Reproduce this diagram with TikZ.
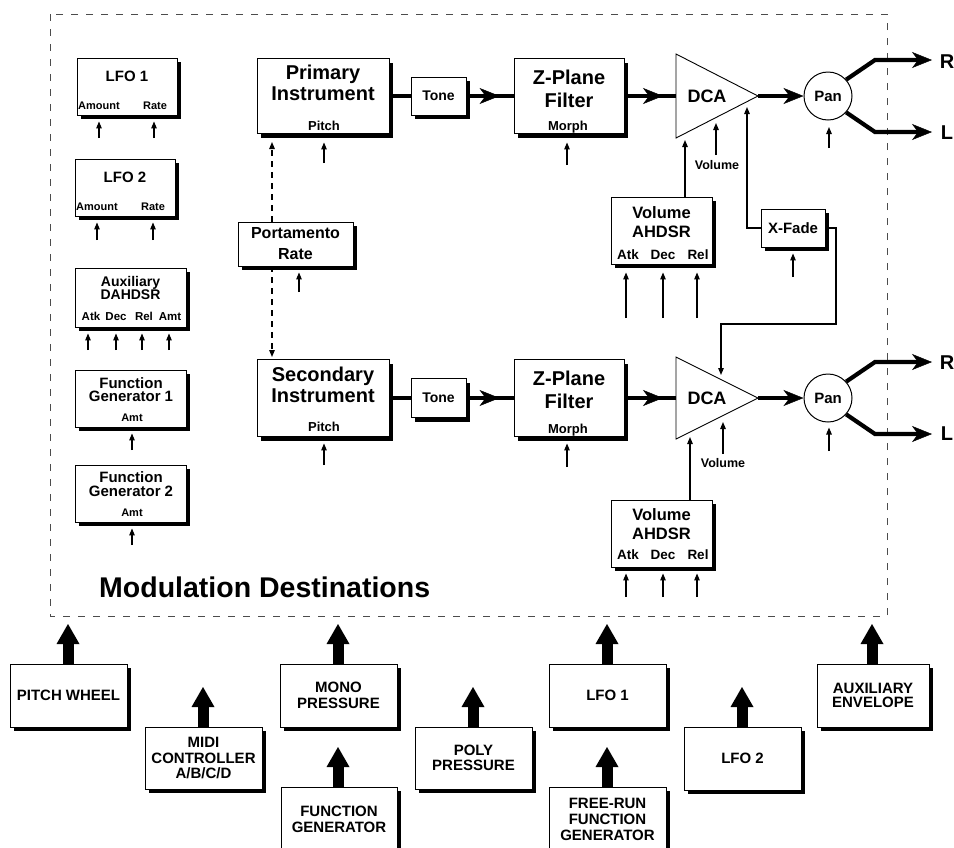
\documentclass[tikz,border=0pt]{standalone}
\usepackage{fontspec}
\setmainfont{Liberation Sans}
\usetikzlibrary{arrows.meta,shadows,decorations.markings,calc}

\newcommand\fs[2]{\fontsize{#1}{#2}\selectfont\bfseries\lineskiplimit=-50pt\lineskip=0pt}
% box by corners: [font]{name}{x1}{y1}{x2}{y2}{text}
\newcommand\mybox[6][]{\node[box,font=#1,minimum width={(#5)-(#3)},minimum height={(#6)-(#4)}] (#2) at ({((#3)+(#5))/2},{((#4)+(#6))/2})}
% thin modulation arrow with free lower end: {node}{x}{ybase}{gap}
\newcommand\modin[4]{\coordinate (#1b#2) at (#2,#3); \draw[mod, shorten >=#4pt] (#1b#2) -- (#1b#2 |- #1.south);}

\tikzset{
  box/.style={draw=black, line width=0.9pt, fill=white, inner sep=0pt, align=center,
    general shadow={fill=black, shadow xshift=4pt, shadow yshift=-4pt}},
  lbl/.style={inner sep=0pt, text depth=0pt},
  ml/.style={inner sep=0pt, align=center},
  mod/.style={line width=1.2pt, -{Triangle[length=7pt,width=5.5pt]}},
  sig/.style={line width=4.2pt},
  sigtip/.style={-{Stealth[length=20pt,width=16pt,inset=6pt,line width=0.5pt]}},
  midtip/.style={postaction={decorate, decoration={markings,
     mark=at position -#1 with {\arrow{Stealth[length=20pt,width=16pt,inset=6pt,line width=0.5pt]}}}}},
  fat/.style={line width=11pt, -{Triangle[length=20pt,width=23pt,line width=0pt]}},
  frame/.style={draw=black!70, line width=1pt, dash pattern=on 7pt off 8pt},
  porta/.style={line width=1.2pt, dash pattern=on 6pt off 5pt, -{Triangle[length=7pt,width=5.5pt]}},
  tri/.style={draw=black, line width=0.9pt, fill=white},
  pan/.style={circle, draw=black, line width=1pt, fill=white, minimum size=48pt, inner sep=0pt, font=\fs{15}{15}},
  auxlbl/.style={lbl, text height=8.4pt, font=\fs{11.5}{11.5}},
}

\begin{document}
\begin{tikzpicture}[x=1pt,y=-1pt]
\useasboundingbox (0,0) rectangle (954,847);
\clip (0,0) rectangle (954,847);
\fill[white] (0,0) rectangle (954,847);

\draw[frame] (50,14) rectangle (887,616);

% ---------------- left column ----------------
\mybox{lfo1}{77}{58}{177}{115}{};
\node[lbl,font=\fs{15}{15}] (lfo1t) at (127,76) {LFO 1};
\node[lbl,font=\fs{11}{11}] (lfo1a) at (99,106) {Amount};
\node[lbl,font=\fs{11}{11}] (lfo1r) at (155,106) {Rate};
\modin{lfo1}{99}{138}{6}
\modin{lfo1}{154}{138}{6}

\mybox{lfo2}{75}{159}{175}{216}{};
\node[lbl,font=\fs{15}{15}] (lfo2t) at (125,177) {LFO 2};
\node[lbl,font=\fs{11}{11}] (lfo2a) at (97,207) {Amount};
\node[lbl,font=\fs{11}{11}] (lfo2r) at (153,207) {Rate};
\modin{lfo2}{97}{240}{6}
\modin{lfo2}{153}{240}{6}

\mybox{aux}{75}{268}{186}{327}{};
\node[ml,font=\fs{14}{13}] (auxt) at (130.5,288) {Auxiliary\\DAHDSR};
\node[auxlbl] (auxa) at (91,316) {Atk};
\node[auxlbl] (auxd) at (116,316) {Dec};
\node[auxlbl] (auxr) at (144,316) {Rel};
\node[auxlbl] (auxm) at (170,316) {Amt};
\modin{aux}{88}{350}{6}
\modin{aux}{116}{350}{6}
\modin{aux}{142}{350}{6}
\modin{aux}{169}{350}{6}

\mybox{fg1}{75}{370}{186}{427}{};
\node[ml,font=\fs{15}{13.5}] (fg1t) at (131,389.5) {Function\\Generator 1};
\node[lbl,font=\fs{11}{11}] (fg1a) at (132,418) {Amt};
\modin{fg1}{132}{450}{6}

\mybox{fg2}{75}{465}{186}{522}{};
\node[ml,font=\fs{15}{13.5}] (fg2t) at (131,484) {Function\\Generator 2};
\node[lbl,font=\fs{11}{11}] (fg2a) at (132,513) {Amt};
\modin{fg2}{132}{545}{6}

\node[anchor=base west, inner sep=0pt, font=\fs{28.5}{30}] (moddest) at (99,597) {Modulation Destinations};

% ---------------- primary chain ----------------
\mybox{prim}{257}{58.5}{389}{133.5}{};
\node[ml,font=\fs{20}{21}] (primt) at (323,82.5) {Primary\\Instrument};
\node[lbl,font=\fs{13}{13}] (primp) at (324,126) {Pitch};
\modin{prim}{324}{163}{8.5}

\mybox[\fs{14}{14}]{tone1}{411}{77}{466}{115}{Tone};

\mybox{zp1}{514}{58.5}{624}{133.5}{};
\node[ml,font=\fs{20}{23}] (zp1t) at (569,88.5) {Z-Plane\\Filter};
\node[lbl,font=\fs{13}{13}] (zp1m) at (568,126) {Morph};
\modin{zp1}{567}{165}{8.5}

\draw[tri] (676,54) -- (758,96) -- (676,138) -- cycle;
\node[lbl,font=\fs{18}{18}] (dca1) at (707,96) {DCA};
\coordinate (dca1in) at (676,96);
\coordinate (dca1out) at (758,96);

\node[pan] (pan1) at (828,96) {Pan};
\modin{pan1}{829}{148}{6.5}

\mybox[\fs{16}{21}]{porta}{238}{222}{353}{266}{Portamento\\Rate};
\modin{porta}{299}{292}{6}

\mybox{vol1}{611}{197}{712}{264}{};
\node[ml,font=\fs{16.5}{19}] (vol1t) at (661.5,222.5) {Volume\\AHDSR};
\node[lbl,font=\fs{13.5}{13.5}] (vol1a) at (628,255) {Atk};
\node[lbl,font=\fs{13.5}{13.5}] (vol1d) at (663,255) {Dec};
\node[lbl,font=\fs{13.5}{13.5}] (vol1r) at (698,255) {Rel};
\modin{vol1}{626}{318}{8}
\modin{vol1}{663}{318}{8}
\modin{vol1}{697}{318}{8}

\mybox[\fs{15}{15}]{xfade}{761}{209}{825}{247}{X-Fade};
\modin{xfade}{793}{277}{6}

\node[lbl,font=\fs{12.5}{12.5}] (vol1l) at (717,165) {Volume};

% ---------------- secondary chain ----------------
\mybox{sec}{257}{359.5}{389}{436.5}{};
\node[ml,font=\fs{20}{21}] (sect) at (323,384.5) {Secondary\\Instrument};
\node[lbl,font=\fs{13}{13}] (secp) at (324,427) {Pitch};
\modin{sec}{324}{465}{6.5}

\mybox[\fs{14}{14}]{tone2}{411}{378.5}{466}{417.5}{Tone};

\mybox{zp2}{514}{359.5}{624}{436.5}{};
\node[ml,font=\fs{20}{23}] (zp2t) at (569,390) {Z-Plane\\Filter};
\node[lbl,font=\fs{13}{13}] (zp2m) at (568,429) {Morph};
\modin{zp2}{567}{467}{6.5}

\draw[tri] (676,357) -- (758,398) -- (676,439) -- cycle;
\node[lbl,font=\fs{18}{18}] (dca2) at (707,398) {DCA};
\coordinate (dca2in) at (676,398);
\coordinate (dca2out) at (758,398);

\node[pan] (pan2) at (828,398) {Pan};
\modin{pan2}{829}{451}{5}

\mybox{vol2}{611}{500}{712}{567}{};
\node[ml,font=\fs{16.5}{19}] (vol2t) at (661.5,524) {Volume\\AHDSR};
\node[lbl,font=\fs{13.5}{13.5}] (vol2a) at (628,555) {Atk};
\node[lbl,font=\fs{13.5}{13.5}] (vol2d) at (663,555) {Dec};
\node[lbl,font=\fs{13.5}{13.5}] (vol2r) at (698,555) {Rel};
\modin{vol2}{626}{597}{6}
\modin{vol2}{663}{597}{6}
\modin{vol2}{697}{597}{6}

\node[lbl,font=\fs{12.5}{12.5}] (vol2l) at (723,463) {Volume};

% ---------------- R / L ----------------
\node[lbl,font=\fs{20}{20}] (r1t) at (947,62) {R};
\node[lbl,font=\fs{20}{20}] (l1t) at (947,133) {L};
\node[lbl,font=\fs{20}{20}] (r2t) at (947,363) {R};
\node[lbl,font=\fs{20}{20}] (l2t) at (947,434) {L};

% ---------------- signal connectors ----------------
\draw[sig] (prim) -- (tone1);
\draw[sig, midtip=14pt] (tone1) -- (zp1);
\draw[sig, midtip=13pt] (zp1) -- (dca1in);
\draw[sig, sigtip] (dca1out) -- (pan1);
\coordinate (r1b) at (875,60);  \coordinate (r1) at (932,60);
\coordinate (l1b) at (875,132); \coordinate (l1) at (932,132);
\draw[sig, sigtip] (pan1.42) -- (r1b) -- (r1);
\draw[sig, sigtip] (pan1.-42) -- (l1b) -- (l1);

\draw[sig] (sec) -- (tone2);
\draw[sig, midtip=14pt] (tone2) -- (zp2);
\draw[sig, midtip=13pt] (zp2) -- (dca2in);
\draw[sig, sigtip] (dca2out) -- (pan2);
\coordinate (r2b) at (875,362); \coordinate (r2) at (932,362);
\coordinate (l2b) at (875,434); \coordinate (l2) at (932,434);
\draw[sig, sigtip] (pan2.42) -- (r2b) -- (r2);
\draw[sig, sigtip] (pan2.-42) -- (l2b) -- (l2);

% ---------------- DCA control connectors ----------------
\coordinate (d1v) at (716,123);  \coordinate (d1vb) at (716,155);
\draw[mod] (d1vb) -- (d1v);
\coordinate (d1e) at (685,140);
\draw[mod] (d1e |- vol1.north) -- (d1e);
\coordinate (d1x) at (747,107);
\draw[mod] (xfade.west) -| (d1x);
\coordinate (xfr) at (836,324); \coordinate (d2x) at (721,375);
\draw[mod] (xfade.east) -- (xfade.east -| xfr) -- (xfr) -| (d2x);

\coordinate (d2v) at (723,422);  \coordinate (d2vb) at (723,454);
\draw[mod] (d2vb) -- (d2v);
\coordinate (d2e) at (690,437);
\draw[mod] (d2e |- vol2.north) -- (d2e);

% portamento
\coordinate (pup) at (272,142); \coordinate (pdn) at (272,357);
\draw[porta] (pup |- porta.north) -- (pup);
\draw[porta] (pdn |- porta.south) -- (pdn);

% ---------------- modulation sources ----------------
\mybox[\fs{15}{15.5}]{pw}{10}{664}{127}{727}{PITCH WHEEL};
\mybox[\fs{15}{15.5}]{midi}{145}{727}{262}{789}{MIDI\\CONTROLLER\\A/B/C/D};
\mybox[\fs{15}{15.5}]{mono}{280}{664}{397}{727}{MONO\\PRESSURE};
\mybox[\fs{15}{15.5}]{fgen}{281}{787}{397}{852}{FUNCTION\\GENERATOR};
\mybox[\fs{15}{15.5}]{poly}{415}{727}{532}{789}{POLY\\PRESSURE};
\mybox[\fs{15}{15.5}]{lfo1s}{549}{664}{666}{727}{LFO 1};
\mybox[\fs{15}{16}]{frfg}{549}{787}{666}{852}{FREE-RUN\\FUNCTION\\GENERATOR};
\mybox[\fs{15}{15.5}]{lfo2s}{684}{727}{801}{790}{LFO 2};
\mybox[\fs{15}{14.5}]{auxe}{817}{664}{929}{727}{AUXILIARY\\ENVELOPE};

\coordinate (pwtip) at (68,624);
\coordinate (miditip) at (203,687);
\coordinate (monotip) at (338,624);
\coordinate (fgentip) at (338,747);
\coordinate (polytip) at (473,687);
\coordinate (lfo1stip) at (607,624);
\coordinate (frfgtip) at (607,747);
\coordinate (lfo2stip) at (742,687);
\coordinate (auxetip) at (872,624);
\draw[fat] (pwtip |- pw.north) -- (pwtip);
\draw[fat] (miditip |- midi.north) -- (miditip);
\draw[fat] (monotip |- mono.north) -- (monotip);
\draw[fat] (fgentip |- fgen.north) -- (fgentip);
\draw[fat] (polytip |- poly.north) -- (polytip);
\draw[fat] (lfo1stip |- lfo1s.north) -- (lfo1stip);
\draw[fat] (frfgtip |- frfg.north) -- (frfgtip);
\draw[fat] (lfo2stip |- lfo2s.north) -- (lfo2stip);
\draw[fat] (auxetip |- auxe.north) -- (auxetip);
\end{tikzpicture}
\end{document}
